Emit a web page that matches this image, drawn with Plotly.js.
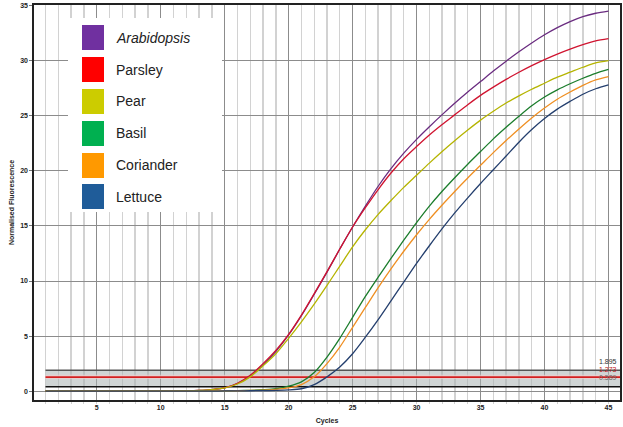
<!DOCTYPE html>
<html>
<head>
<meta charset="utf-8">
<script src="https://cdn.plot.ly/plotly-3.0.1.min.js"></script>
<style>html,body{margin:0;padding:0;background:#fff;}#chart{width:623px;height:427px;}</style>
</head>
<body>
<div id="chart"></div>
<script>
const cycles = [1,2,3,4,5,6,7,8,9,10,11,12,13,14,15,16,17,18,19,20,21,22,23,24,25,26,27,28,29,30,31,32,33,34,35,36,37,38,39,40,41,42,43,44,45];

const arabidopsis = [0,0,0,0,0,0,0,0,0,0.01,0.01,0.03,0.07,0.15,0.3,0.7,1.4,2.4,3.6,5.1,6.85,8.8,10.8,12.9,14.9,16.8,18.6,20.2,21.6,22.85,24.0,25.1,26.15,27.15,28.1,29.05,29.95,30.8,31.6,32.35,33.0,33.55,34.0,34.3,34.5];
const parsley = [0,0,0,0,0,0,0,0,0,0.01,0.01,0.03,0.07,0.15,0.3,0.72,1.45,2.5,3.7,5.15,6.9,8.85,10.85,12.9,14.9,16.65,18.3,19.8,21.1,22.2,23.25,24.2,25.1,26.0,26.85,27.6,28.3,28.95,29.55,30.1,30.6,31.05,31.45,31.8,32.0];
const pear = [0,0,0,0,0,0,0,0,0,0.01,0.01,0.03,0.06,0.14,0.3,0.65,1.3,2.3,3.4,4.8,6.3,7.9,9.6,11.35,13.1,14.65,16.05,17.3,18.5,19.6,20.7,21.75,22.75,23.7,24.6,25.4,26.15,26.8,27.4,27.95,28.5,28.95,29.4,29.8,30.0];
const basil = [0,0,0,0,0,0,0,0,0,0,0,0,0.01,0.02,0.03,0.05,0.08,0.13,0.22,0.45,0.85,1.7,3.1,4.8,6.7,8.6,10.35,12.05,13.7,15.3,16.8,18.15,19.4,20.6,21.75,22.9,23.95,24.95,25.9,26.7,27.35,27.9,28.4,28.85,29.2];
const coriander = [0,0,0,0,0,0,0,0,0,0,0,0,0.01,0.02,0.03,0.04,0.07,0.1,0.17,0.3,0.6,1.3,2.5,4.0,5.8,7.6,9.4,11.1,12.7,14.2,15.6,16.9,18.15,19.35,20.5,21.65,22.75,23.8,24.8,25.7,26.5,27.15,27.75,28.25,28.55];
const lettuce = [0,0,0,0,0,0,0,0,0,0,0,0,0,0.01,0.02,0.03,0.04,0.05,0.07,0.11,0.22,0.6,1.3,2.2,3.4,4.9,6.5,8.2,9.9,11.6,13.2,14.75,16.2,17.55,18.85,20.1,21.35,22.6,23.75,24.75,25.6,26.3,26.95,27.45,27.8];

const seriesNames = ['Arabidopsis','Parsley','Pear','Basil','Coriander','Lettuce'];
const seriesValues = [arabidopsis, parsley, pear, basil, coriander, lettuce];
const lineColors = ['#6a2c80','#d01430','#b5b400','#1b7d2c','#ef8f22','#243f6e'];
const legendColors = ['#7030a0','#ff0000','#cccc00','#00b050','#ff9900','#1f5c99'];
const legendItalic = [true,false,false,false,false,false];

const thresholds = [1.895, 1.273, 0.4];
const thresholdLabels = ['1.895','1.273','0.589'];
const yTicks = [0,5,10,15,20,25,30,35];
const xTicks = [5,10,15,20,25,30,35,40,45];

const traces = seriesNames.map((n,i)=>({
  x: cycles, y: seriesValues[i], type:'scatter', mode:'lines', name:n,
  line:{color:lineColors[i], width:1.3, shape:'spline', smoothing:0.8},
  showlegend:false, hoverinfo:'skip'
}));

const shapes = [];
// threshold band
shapes.push({type:'rect', xref:'x', yref:'y', x0:1, x1:45.9, y0:thresholds[2], y1:thresholds[0], fillcolor:'rgba(170,178,178,0.55)', line:{width:0}, layer:'between'});
shapes.push({type:'rect', xref:'x', yref:'y', x0:1, x1:45.9, y0:1.1, y1:1.5, fillcolor:'rgba(240,205,205,0.7)', line:{width:0}, layer:'between'});
shapes.push({type:'line', xref:'x', yref:'y', x0:1, x1:45.9, y0:thresholds[0], y1:thresholds[0], line:{color:'#555555', width:1.6}, layer:'between'});
shapes.push({type:'line', xref:'x', yref:'y', x0:1, x1:45.9, y0:thresholds[1], y1:thresholds[1], line:{color:'#d42020', width:1.6}, layer:'between'});
shapes.push({type:'line', xref:'x', yref:'y', x0:1, x1:45.9, y0:thresholds[2], y1:thresholds[2], line:{color:'#111111', width:1.6}, layer:'between'});

// legend box
const L = 34, R = 620, T = 5, B = 400, W = R-L, H = B-T;
const px = v => (v-L)/W, py = v => (B-v)/H;
shapes.push({type:'rect', xref:'paper', yref:'paper', x0:px(68), x1:px(222), y0:py(212), y1:py(18), fillcolor:'#ffffff', line:{width:0}, layer:'above'});
const annotations = [];
const itemTops = [25,57,89,121,153,184];
seriesNames.forEach((n,i)=>{
  shapes.push({type:'rect', xref:'paper', yref:'paper', x0:px(82), x1:px(104), y0:py(itemTops[i]+25), y1:py(itemTops[i]), fillcolor:legendColors[i], line:{width:0}, layer:'above'});
  annotations.push({xref:'paper', yref:'paper', x:px(114), y:py(itemTops[i]+12.5), xanchor:'left', yanchor:'middle', showarrow:false,
    text: legendItalic[i] ? '<i>'+n+'</i>' : n, font:{family:'Liberation Sans, Arial, sans-serif', size:14, color:'#222'}});
});
// threshold labels
const labelY = [2.65, 2.0, 1.2];
const labelColors = ['#333','#c01818','#666'];
thresholdLabels.forEach((t,i)=>{
  annotations.push({xref:'paper', yref:'y', x:0.998, y:labelY[i], xanchor:'right', yanchor:'middle', showarrow:false,
    text:t, font:{family:'Liberation Sans, Arial, sans-serif', size:7, color:labelColors[i]}});
});

const layout = {
  width:623, height:427,
  margin:{l:34, r:3, t:5, b:27},
  paper_bgcolor:'#ffffff', plot_bgcolor:'#ffffff',
  showlegend:false,
  xaxis:{
    range:[0.1,45.9], tickvals:xTicks, ticktext:xTicks.map(String),
    showgrid:true, gridcolor:'#8c8c8c', gridwidth:1,
    minor:{dtick:1, tick0:0, showgrid:true, gridcolor:'#d2d2d2', gridwidth:1.4, ticks:'outside', ticklen:2, tickcolor:'#d0d0d0'},
    ticks:'', zeroline:false,
    showline:true, mirror:true, linecolor:'#222', linewidth:1.6,
    tickfont:{family:'Liberation Sans, Arial, sans-serif', size:7, color:'#222', weight:'bold'},
    title:{text:'<b>Cycles</b>', font:{family:'Liberation Sans, Arial, sans-serif', size:7, color:'#222'}, standoff:8}
  },
  yaxis:{
    range:[-0.8,35.05], tickvals:yTicks, ticktext:yTicks.map(String),
    showgrid:true, gridcolor:'#8c8c8c', gridwidth:1,
    ticks:'outside', ticklen:3, tickcolor:'#777', zeroline:false,
    showline:true, mirror:true, linecolor:'#222', linewidth:1.6,
    tickfont:{family:'Liberation Sans, Arial, sans-serif', size:7, color:'#222', weight:'bold'},
    title:{text:'<b>Normalised Fluorescence</b>', font:{family:'Liberation Sans, Arial, sans-serif', size:7, color:'#222'}, standoff:5}
  },
  shapes:shapes, annotations:annotations
};

Plotly.newPlot('chart', traces, layout, {staticPlot:true, displayModeBar:false});
</script>
</body>
</html>
